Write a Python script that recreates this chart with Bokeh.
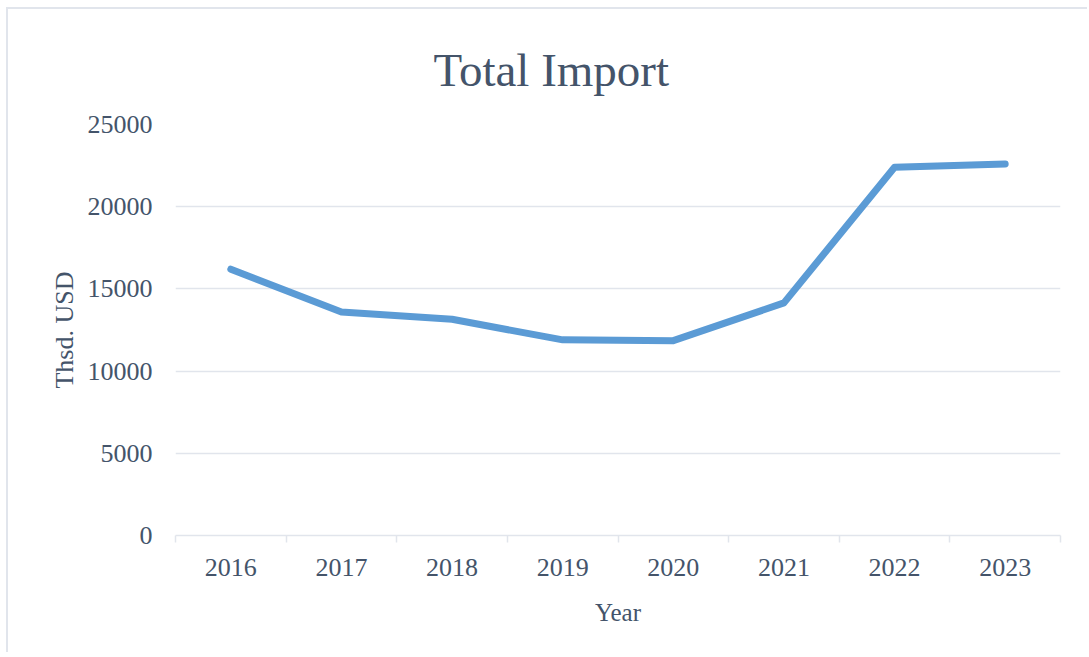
from bokeh.plotting import figure
from bokeh.models import Range1d, LinearAxis, FixedTicker
from bokeh.embed import file_html
from bokeh.resources import INLINE

years = ["2016", "2017", "2018", "2019", "2020", "2021", "2022", "2023"]
total_import = [16200, 13600, 13150, 11900, 11850, 14150, 22400, 22600]
y_ticks = [0, 5000, 10000, 15000, 20000, 25000]

TEXT = "#44546A"
GRID = "#E1E5EC"
FONT = "Liberation Serif"

# category slots: each year occupies one unit, centred at i + 0.5
x_pos = [i + 0.5 for i in range(len(years))]
x_bounds = list(range(len(years) + 1))

p = figure(width=1081, height=645, output_backend="svg", toolbar_location=None,
           x_range=Range1d(0, len(years)), y_range=Range1d(0, 25000),
           x_axis_location=None, y_axis_location="left",
           min_border_left=167, min_border_right=29, min_border_top=115,
           min_border_bottom=119, title="Total Import")
p.styles = {"border-top": "2px solid #E1E5EC", "border-left": "2px solid #E1E5EC",
            "margin-top": "7px", "margin-left": "6px"}
p.outline_line_color = None
p.background_fill_color = "white"
p.border_fill_color = "white"

p.title.text_font = FONT
p.title.text_font_size = "47px"
p.title.text_font_style = "normal"
p.title.text_color = TEXT
p.title.align = "left"
p.title.offset = 258
p.title.standoff = 58

# y axis
ya = p.yaxis[0]
ya.ticker = FixedTicker(ticks=y_ticks)
ya.axis_line_color = None
ya.major_tick_line_color = None
ya.minor_tick_line_color = None
ya.major_label_standoff = 17
ya.major_label_text_font = FONT
ya.major_label_text_font_size = "26px"
ya.major_label_text_color = TEXT
ya.axis_label = "Thsd. USD"
ya.axis_label_text_font = FONT
ya.axis_label_text_font_size = "26px"
ya.axis_label_text_font_style = "normal"
ya.axis_label_text_color = TEXT
ya.axis_label_standoff = 6

p.xgrid.grid_line_color = None
p.ygrid.grid_line_color = GRID
p.ygrid.grid_line_width = 1.5
p.ygrid.ticker = FixedTicker(ticks=y_ticks)

# axis line with tick marks on the category boundaries
tick_axis = LinearAxis(ticker=FixedTicker(ticks=x_bounds),
                       axis_line_color=GRID, axis_line_width=1.5,
                       major_tick_line_color=GRID, major_tick_line_width=1.5,
                       major_tick_out=7, major_tick_in=0,
                       minor_tick_line_color=None,
                       major_label_overrides={b: "" for b in x_bounds},
                       major_label_text_font_size="1px",
                       major_label_standoff=0)
p.add_layout(tick_axis, "below")

# year labels at category centres
label_axis = LinearAxis(ticker=FixedTicker(ticks=x_pos),
                        major_label_overrides=dict(zip(x_pos, years)),
                        axis_line_color=None, major_tick_line_color=None,
                        minor_tick_line_color=None,
                        major_label_standoff=10,
                        major_label_text_font=FONT,
                        major_label_text_font_size="26px",
                        major_label_text_color=TEXT,
                        axis_label="Year",
                        axis_label_text_font=FONT,
                        axis_label_text_font_size="25px",
                        axis_label_text_font_style="normal",
                        axis_label_text_color=TEXT,
                        axis_label_standoff=20)
p.add_layout(label_axis, "below")

p.line(x_pos, total_import, line_color="#5B9BD5", line_width=7,
       line_cap="round", line_join="round")

open("out.html", "w").write(file_html(p, INLINE))
